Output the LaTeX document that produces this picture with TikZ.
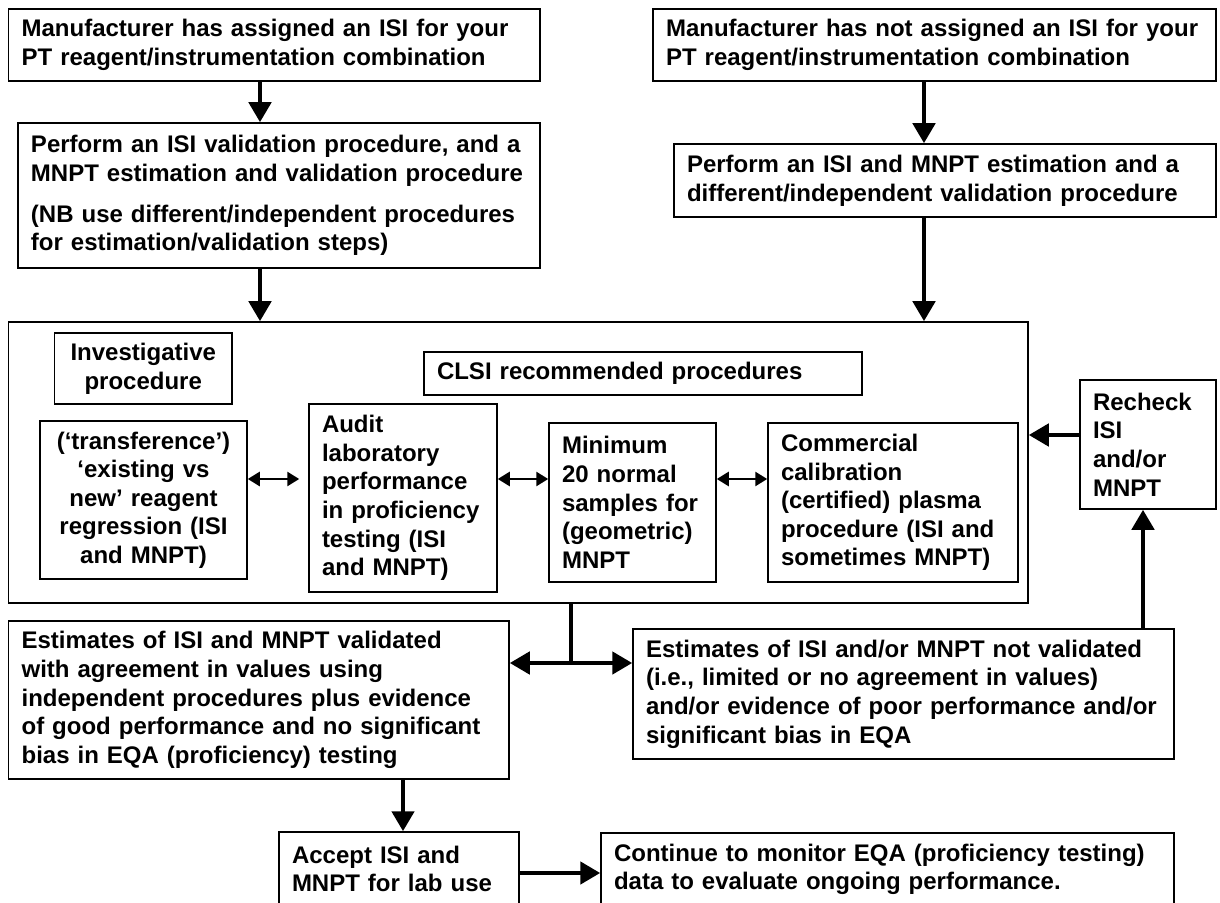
\documentclass[tikz,border=0pt]{standalone}
\usepackage{fontspec}
\setmainfont{Liberation Sans}
\usetikzlibrary{arrows.meta}
\begin{document}
\begin{tikzpicture}[x=0.5pt,y=-0.5pt,
  bx/.style={draw, line width=0.75pt, inner xsep=6.5pt, inner ysep=0pt, align=left,
    font=\bfseries\fontsize{12}{14.3}\selectfont},
  bxc/.style={bx, align=center},
  arr/.style={line width=2.3pt, -{Triangle[width=11pt,length=10pt]}},
  darr/.style={line width=1.3pt, {Triangle[width=7pt,length=6pt]}-{Triangle[width=7pt,length=6pt]}}]
\path[use as bounding box] (0,0) rectangle (1220,903);
\clip (0,0) rectangle (1220,903);
\node[bx, minimum width=265.7pt, minimum height=36pt, text width=252.7pt] (A) at (274.3,45)
  {Manufacturer has assigned an ISI for your\\PT reagent/instrumentation combination};
\node[bx, minimum width=261pt, minimum height=72.5pt, text width=248pt] (B) at (279,195.5)
  {Perform an ISI validation procedure, and a\\MNPT estimation and validation procedure\\[6pt](NB use different/independent procedures\\for estimation/validation steps)};
\node[bx, minimum width=281.5pt, minimum height=36pt, text width=268.5pt] (C) at (934.5,45)
  {Manufacturer has not assigned an ISI for your\\PT reagent/instrumentation combination};
\node[bx, minimum width=271pt, minimum height=36.5pt, text width=258pt] (D) at (945,180.5)
  {Perform an ISI and MNPT estimation and a\\different/independent validation procedure};
\node[draw, line width=0.75pt, minimum width=509.7pt, minimum height=140.5pt, inner sep=0pt] (big) at (518.3,462.5) {};
\node[bxc, inner xsep=3pt, minimum width=88.75pt, minimum height=35.5pt, text width=82.75pt] (inv) at (143.25,368.5)
  {Investigative\\procedure};
\node[bx, minimum width=219pt, minimum height=21.5pt, text width=206pt] (clsi) at (643,373.5)
  {CLSI recommended procedures};
\node[bxc, inner xsep=3pt, minimum width=103.5pt, minimum height=79pt, text width=97.5pt] (tr) at (143.5,500)
  {(‘transference’)\\‘existing vs\\new’ reagent\\regression (ISI\\and MNPT)};
\node[bx, minimum width=94pt, minimum height=94pt, text width=81pt] (au) at (403,498)
  {Audit\\laboratory\\performance\\in proficiency\\testing (ISI\\and MNPT)};
\node[bx, minimum width=83.5pt, minimum height=79.5pt, text width=70.5pt] (mi) at (632.5,502.5)
  {Minimum\\20 normal\\samples for\\(geometric)\\MNPT};
\node[bx, minimum width=125pt, minimum height=79.5pt, text width=112pt] (co) at (893,502.5)
  {Commercial\\calibration\\(certified) plasma\\procedure (ISI and\\sometimes MNPT)};
\node[bx, minimum width=68pt, minimum height=64.5pt, text width=55pt] (re) at (1148,444.5)
  {Recheck\\ISI\\and/or\\MNPT};
\node[bx, minimum width=250.2pt, minimum height=79pt, text width=237.2pt] (E) at (258.8,700)
  {Estimates of ISI and MNPT validated\\with agreement in values using\\independent procedures plus evidence\\of good performance and no significant\\bias in EQA (proficiency) testing};
\node[bx, minimum width=270.5pt, minimum height=65pt, text width=257.5pt] (F) at (903.5,694)
  {Estimates of ISI and/or MNPT not validated\\(i.e., limited or no agreement in values)\\and/or evidence of poor performance and/or\\significant bias in EQA};
\node[bx, minimum width=120pt, minimum height=37pt, text width=107pt] (G) at (399,869)
  {Accept ISI and\\MNPT for lab use};
\node[bx, minimum width=286.5pt, minimum height=36.5pt, text width=273.5pt] (H) at (887.5,869.5)
  {Continue to monitor EQA (proficiency testing)\\data to evaluate ongoing performance.};
% connectors
\coordinate (xa) at (260,0);
\coordinate (xc) at (924,0);
\draw[arr] (xa |- A.south) -- (xa |- B.north);
\draw[arr] (xa |- B.south) -- (xa |- big.north);
\draw[arr] (xc |- C.south) -- (xc |- D.north);
\draw[arr] (xc |- D.south) -- (xc |- big.north);
\coordinate (yd) at (0,479);
\draw[darr, shorten >=4.5pt] (tr.east |- yd) -- (au.west |- yd);
\draw[darr] (au.east |- yd) -- (mi.west |- yd);
\draw[darr] (mi.east |- yd) -- (co.west |- yd);
\coordinate (yr) at (0,435);
\draw[arr] (re.west |- yr) -- (big.east |- yr);
\coordinate (xr) at (1143,0);
\draw[arr] (xr |- F.north) -- (xr |- re.south);
\coordinate (j) at (571,663);
\draw[line width=2.3pt] (j |- big.south) -- (j);
\draw[arr] (j) -- (E.east |- j);
\draw[arr] (j) -- (F.west |- j);
\coordinate (xe) at (403,0);
\draw[arr] (xe |- E.south) -- (xe |- G.north);
\coordinate (yg) at (0,873);
\draw[arr] (G.east |- yg) -- (H.west |- yg);
\end{tikzpicture}
\end{document}
